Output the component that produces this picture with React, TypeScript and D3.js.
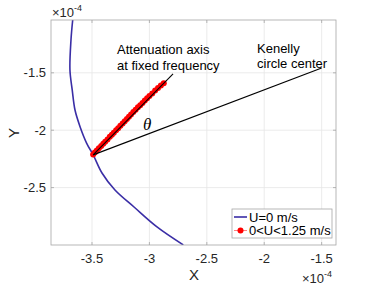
import React from "react";
import * as d3 from "d3";

const curveX = [-3.668, -3.683, -3.692, -3.672, -3.648, -3.604, -3.546, -3.489, -3.413, -3.300, -3.134, -2.937, -2.705];
const curveY = [-1.04, -1.214, -1.476, -1.650, -1.824, -1.969, -2.114, -2.216, -2.373, -2.521, -2.669, -2.840, -2.999];

const redX = [-3.490, -3.475, -3.458, -3.440, -3.420, -3.402, -3.385, -3.365, -3.345, -3.327, -3.310, -3.290, -3.272, -3.253, -3.233, -3.215, -3.196, -3.178, -3.160, -3.140, -3.120, -3.100, -3.080, -3.060, -3.040, -3.020, -3.000, -2.975, -2.950, -2.925, -2.900, -2.875];
const redY = [-2.212, -2.195, -2.176, -2.158, -2.137, -2.118, -2.101, -2.080, -2.058, -2.040, -2.022, -2.001, -1.982, -1.962, -1.941, -1.922, -1.902, -1.883, -1.864, -1.842, -1.821, -1.800, -1.783, -1.764, -1.741, -1.722, -1.702, -1.681, -1.655, -1.632, -1.610, -1.590];

const attenLineX = [-3.49, -2.794];
const attenLineY = [-2.215, -1.51];
const kenellyLineX = [-3.49, -1.5];
const kenellyLineY = [-2.215, -1.458];

const xTicks = [-3.5, -3, -2.5, -2, -1.5];
const yTicks = [-1.5, -2, -2.5];
const legendLabels = ["U=0 m/s", "0<U<1.25 m/s"];

const L = 51, R = 336, T = 20, B = 245;
const font = "'Liberation Sans', Arial, Helvetica, sans-serif";

export default function App() {
  const x = d3.scaleLinear().domain([-3.857, -1.375]).range([L, R]);
  const y = d3.scaleLinear().domain([-1.04, -3.0]).range([T, B]);
  const curve = d3.line<number>().x((_, i) => x(curveX[i])).y((_, i) => y(curveY[i])).curve(d3.curveCatmullRom);
  const redLine = d3.line<number>().x((_, i) => x(redX[i])).y((_, i) => y(redY[i]));
  const blue = "#3a2ea6";
  return (
    <svg width={374} height={285} style={{ position: "absolute", left: 0, top: 0, background: "#fff" }} fontFamily={font}>
      <defs>
        <clipPath id="clip"><rect x={L} y={T} width={R - L} height={B - T} /></clipPath>
      </defs>
      <rect x={L} y={T} width={R - L} height={B - T} fill="#fff" />
      {xTicks.map(t => (
        <line key={"gx" + t} x1={x(t)} x2={x(t)} y1={T} y2={B} stroke="#e6e6e6" strokeWidth={0.8} />
      ))}
      {yTicks.map(t => (
        <line key={"gy" + t} x1={L} x2={R} y1={y(t)} y2={y(t)} stroke="#e6e6e6" strokeWidth={0.8} />
      ))}
      <g clipPath="url(#clip)">
        <path d={curve(curveX) || ""} fill="none" stroke={blue} strokeWidth={1.6} />
        <path d={redLine(redX) || ""} fill="none" stroke="#ff0000" strokeWidth={1} />
        {redX.map((v, i) => (
          <circle key={i} cx={x(v)} cy={y(redY[i])} r={3} fill="#ff0000" />
        ))}
        <line x1={x(attenLineX[0])} y1={y(attenLineY[0])} x2={x(attenLineX[1])} y2={y(attenLineY[1])} stroke="#000" strokeWidth={1.1} />
        <line x1={x(kenellyLineX[0])} y1={y(kenellyLineY[0])} x2={x(kenellyLineX[1])} y2={y(kenellyLineY[1])} stroke="#000" strokeWidth={1.1} />
      </g>
      <rect x={L} y={T} width={R - L} height={B - T} fill="none" stroke="#a6a6a6" strokeWidth={0.8} />
      {xTicks.map(t => (
        <g key={"tx" + t}>
          <line x1={x(t)} x2={x(t)} y1={B} y2={B - 3} stroke="#a6a6a6" strokeWidth={0.8} />
          <line x1={x(t)} x2={x(t)} y1={T} y2={T + 3} stroke="#a6a6a6" strokeWidth={0.8} />
          <text x={x(t)} y={263} fontSize={13} textAnchor="middle" fill="#262626">{String(t)}</text>
        </g>
      ))}
      {yTicks.map(t => (
        <g key={"ty" + t}>
          <line x1={L} x2={L + 3} y1={y(t)} y2={y(t)} stroke="#a6a6a6" strokeWidth={0.8} />
          <line x1={R} x2={R - 3} y1={y(t)} y2={y(t)} stroke="#a6a6a6" strokeWidth={0.8} />
          <text x={46} y={y(t) + 4.5} fontSize={13} textAnchor="end" fill="#262626">{String(t)}</text>
        </g>
      ))}
      <text x={52} y={17} fontSize={13} fill="#262626">×10<tspan fontSize={9} dy={-6}>-4</tspan></text>
      <text x={302} y={283} fontSize={13} fill="#262626">×10<tspan fontSize={9} dy={-6}>-4</tspan></text>
      <text x={194} y={280} fontSize={15} textAnchor="middle" fill="#262626">X</text>
      <text transform="translate(18.5,133) rotate(-90)" fontSize={15} textAnchor="middle" fill="#262626">Y</text>
      <text x={117} y={54} fontSize={13} fill="#000">Attenuation axis</text>
      <text x={117} y={70} fontSize={13} fill="#000">at fixed frequency</text>
      <text x={257} y={53} fontSize={13} fill="#000">Kenelly</text>
      <text x={257} y={68} fontSize={13} fill="#000">circle center</text>
      <text x={143} y={130} fontSize={17} fontStyle="italic" fontFamily="'Liberation Serif', 'Times New Roman', serif" fill="#000">θ</text>
      <rect x={232} y={209} width={100} height={29} fill="#fff" stroke="#a6a6a6" strokeWidth={0.8} />
      <line x1={234} x2={247} y1={217} y2={217} stroke={blue} strokeWidth={1.6} />
      <text x={249} y={221.5} fontSize={13} fill="#000">{legendLabels[0]}</text>
      <line x1={234} x2={247} y1={230.5} y2={230.5} stroke="#ff8080" strokeWidth={1} />
      <circle cx={240.5} cy={230.5} r={3} fill="#ff0000" />
      <text x={249} y={235} fontSize={13} fill="#000">{legendLabels[1]}</text>
    </svg>
  );
}
